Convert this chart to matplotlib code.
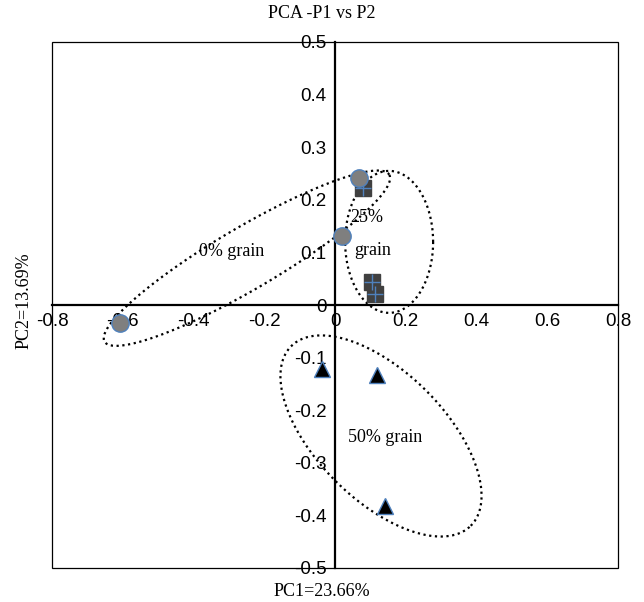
import numpy as np
import matplotlib.pyplot as plt
from matplotlib.patches import Rectangle

# PCA scores
grain0_pc1 = [0.068, 0.019, -0.607]
grain0_pc2 = [0.241, 0.132, -0.034]
grain25_pc1 = [0.078, 0.105, 0.113]
grain25_pc2 = [0.222, 0.044, 0.021]
grain50_pc1 = [-0.038, 0.118, 0.141]
grain50_pc2 = [-0.122, -0.133, -0.382]

group_labels = ["0% grain", "25%", "grain", "50% grain"]
label_x = [-0.291, 0.090, 0.107, 0.141]
label_y = [0.101, 0.167, 0.103, -0.251]

# ellipse outlines: centre (data), semi axes (pixels), angle (deg)
ell_cx = [-0.249, 0.153, 0.130]
ell_cy = [0.089, 0.120, -0.249]
ell_a = [165, 44, 127]
ell_b = [31, 71, 64]
ell_ang = [30.4, 0, -45]

fig = plt.figure(figsize=(6.44, 6.02), dpi=100)
ax = fig.add_axes([52 / 644, 34 / 602, 566 / 644, 526 / 602])
ax.set_xlim(-0.8, 0.8)
ax.set_ylim(-0.5, 0.5)

# pixels per data unit, for drawing the ellipses in screen proportions
sx = 566 / 1.6
sy = 526 / 1.0

t = np.linspace(0, 2 * np.pi, 400)
for i in range(len(ell_cx)):
    th = np.deg2rad(ell_ang[i])
    u = ell_a[i] * np.cos(t)
    v = ell_b[i] * np.sin(t)
    px = u * np.cos(th) - v * np.sin(th)
    py = u * np.sin(th) + v * np.cos(th)
    ax.plot(ell_cx[i] + px / sx, ell_cy[i] + py / sy, color="black",
            linestyle=(0, (1, 1.6)), linewidth=1.6, zorder=2)

blue = "#4f81bd"
ax.plot(grain0_pc1, grain0_pc2, "o", markersize=12.5, markerfacecolor="#7f7f7f",
        markeredgecolor=blue, markeredgewidth=1.0, zorder=4)
ax.plot(grain25_pc1, grain25_pc2, "s", markersize=11.5, markerfacecolor="#404040",
        markeredgecolor="#404040", zorder=3)
ax.plot(grain25_pc1, grain25_pc2, "+", markersize=11, color=blue,
        markeredgewidth=1.0, zorder=3)
ax.plot(grain50_pc1, grain50_pc2, "^", markersize=12, markerfacecolor="black",
        markeredgecolor=blue, markeredgewidth=1.0, zorder=4)

for i in range(len(group_labels)):
    ax.text(label_x[i], label_y[i], group_labels[i], ha="center", va="center",
            fontsize=13, family="Liberation Serif")

ax.spines["left"].set_position("zero")
ax.spines["bottom"].set_position("zero")
ax.spines["left"].set_linewidth(1.6)
ax.spines["bottom"].set_linewidth(1.6)
ax.spines["top"].set_visible(False)
ax.spines["right"].set_visible(False)
ax.add_patch(Rectangle((0, 0), 1, 1, transform=ax.transAxes, fill=False,
                       edgecolor="black", linewidth=0.9, clip_on=False, zorder=1))

ax.set_xticks([-0.8, -0.6, -0.4, -0.2, 0, 0.2, 0.4, 0.6, 0.8])
ax.set_xticklabels(["-0.8", "-0.6", "-0.4", "-0.2", "0", "0.2", "0.4", "0.6", "0.8"])
ax.set_yticks([-0.5, -0.4, -0.3, -0.2, -0.1, 0, 0.1, 0.2, 0.3, 0.4, 0.5])
ax.set_yticklabels(["-0.5", "-0.4", "-0.3", "-0.2", "-0.1", "0", "0.1", "0.2",
                    "0.3", "0.4", "0.5"])
ax.tick_params(length=0, labelsize=13.5, pad=6)
for lab in ax.get_xticklabels() + ax.get_yticklabels():
    lab.set_family("Liberation Sans")

fig.text(0.5, 1 - 14 / 602, "PCA -P1 vs P2", ha="center", va="center",
         fontsize=13, family="Liberation Serif")
fig.text(0.5, 1 - 592 / 602, "PC1=23.66%", ha="center", va="center",
         fontsize=13, family="Liberation Serif")
fig.text(24 / 644, 0.5, "PC2=13.69%", ha="center", va="center", rotation=90,
         fontsize=13, family="Liberation Serif")

fig.savefig("out.png", dpi=100)
